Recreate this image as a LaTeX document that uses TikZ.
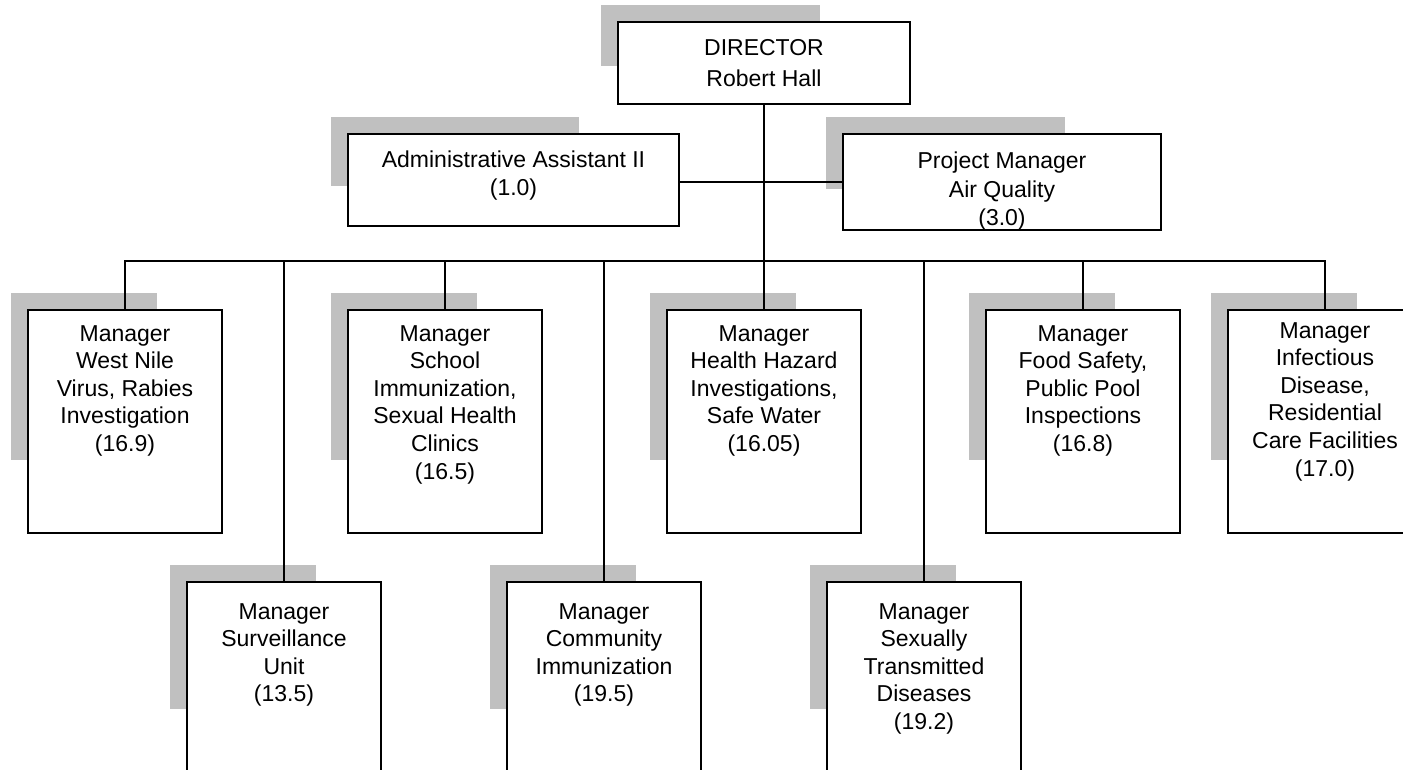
\documentclass[tikz,border=0pt]{standalone}
\usepackage{fontspec}
\setmainfont{Liberation Sans}
\usetikzlibrary{calc}
\definecolor{shadowgray}{RGB}{192,192,192}
\tikzset{
  orgbox/.style={draw=black, line width=2pt, fill=white, rectangle, inner sep=0pt, anchor=north west},
  lbl/.style={align=center, inner sep=0pt, anchor=north, text=black,
              font=\fontsize{23}{27.6}\selectfont},
  link/.style={draw=black, line width=1.8pt},
}
% box with its offset grey block: name, left, top, width, height
\newcommand\chartbox[5]{%
  \fill[shadowgray] (#2-16,#3-16) rectangle ++(0.75*#4,0.75*#5);
  \node[orgbox, minimum width=#4pt, minimum height=#5pt] (#1) at (#2,#3) {};
}
\begin{document}
\begin{tikzpicture}[x=1pt, y=-1pt]
\useasboundingbox (0,0) rectangle (1403,770);
\clip (0,0) rectangle (1403,770);

% boxes
\chartbox{dir}{617}{21}{292}{82}
\chartbox{adm}{347}{133}{331}{92}
\chartbox{pm}{842}{133}{318}{96}
\chartbox{wn}{27}{309}{194}{223}
\chartbox{sch}{347}{309}{194}{223}
\chartbox{hh}{666}{309}{194}{223}
\chartbox{fs}{985}{309}{194}{223}
\chartbox{ic}{1227}{309}{194}{223}
\chartbox{surv}{186}{581}{194}{192}
\chartbox{com}{506}{581}{194}{192}
\chartbox{std}{826}{581}{194}{192}

% connectors
\coordinate (bus) at (763,261);
\draw[link] (dir.south) -- (hh.north);
\draw[link] (pm.west) -- (pm.west -| adm.east);
\draw[link] (wn.north) -- (wn.north |- bus) -- (ic.north |- bus) -- (ic.north);
\draw[link] (sch.north) -- (sch.north |- bus);
\draw[link] (fs.north) -- (fs.north |- bus);
\draw[link] (surv.north) -- (surv.north |- bus);
\draw[link] (com.north) -- (com.north |- bus);
\draw[link] (std.north) -- (std.north |- bus);

% texts
\node[lbl, font=\fontsize{23}{31}\selectfont] (dirtxt) at ($(dir.north)+(0,18)$) {DIRECTOR\\Robert Hall};
\node[lbl] (admtxt) at ($(adm.north)+(0,18)$) {Administrative Assistant II\\(1.0)};
\node[lbl, font=\fontsize{23}{28.5}\selectfont] (pmtxt) at ($(pm.north)+(0,19)$) {Project Manager\\Air Quality\\(3.0)};
\node[lbl] (wntxt) at ($(wn.north)+(0,16)$) {Manager\\West Nile\\Virus, Rabies\\Investigation\\(16.9)};
\node[lbl] (schtxt) at ($(sch.north)+(0,16)$) {Manager\\School\\Immunization,\\Sexual Health\\Clinics\\(16.5)};
\node[lbl] (hhtxt) at ($(hh.north)+(0,16)$) {Manager\\Health Hazard\\Investigations,\\Safe Water\\(16.05)};
\node[lbl] (fstxt) at ($(fs.north)+(0,16)$) {Manager\\Food Safety,\\Public Pool\\Inspections\\(16.8)};
\node[lbl] (ictxt) at ($(ic.north)+(0,13)$) {Manager\\Infectious\\Disease,\\Residential\\Care Facilities\\(17.0)};
\node[lbl] (survtxt) at ($(surv.north)+(0,22)$) {Manager\\Surveillance\\Unit\\(13.5)};
\node[lbl] (comtxt) at ($(com.north)+(0,22)$) {Manager\\Community\\Immunization\\(19.5)};
\node[lbl] (stdtxt) at ($(std.north)+(0,22)$) {Manager\\Sexually\\Transmitted\\Diseases\\(19.2)};
\end{tikzpicture}
\end{document}
